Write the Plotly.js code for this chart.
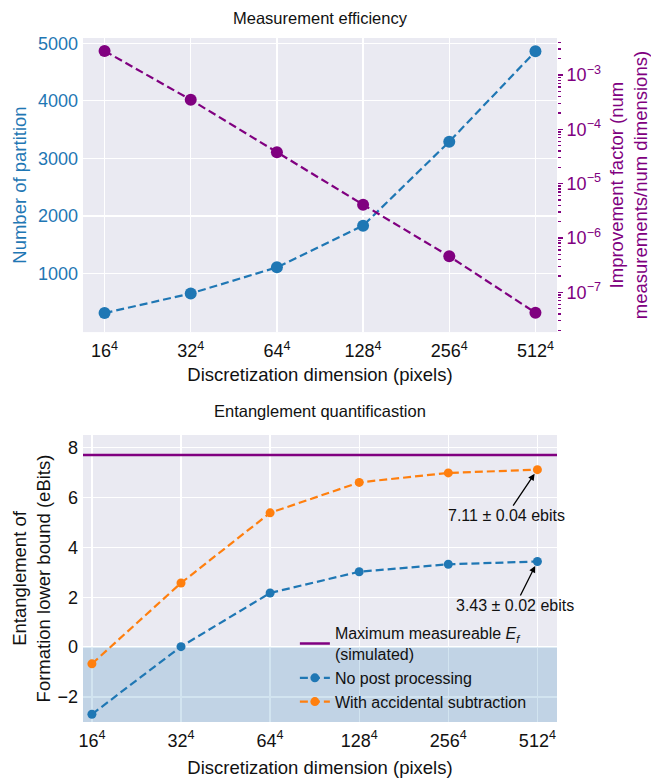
<!DOCTYPE html>
<html><head><meta charset="utf-8">
<script src="https://cdn.plot.ly/plotly-3.0.1.min.js"></script>
<style>html,body{margin:0;padding:0;background:#fff}#chart{width:651px;height:779px}</style>
</head><body><div id="chart"></div>
<script>
// ---- data ----
const dimBases = ['16', '32', '64', '128', '256', '512'];
const xIdx = [0, 1, 2, 3, 4, 5];
const partitions = [310, 650, 1105, 1830, 3290, 4860];
const improvement = [2.77e-3, 3.5e-4, 3.8e-5, 4.1e-6, 4.6e-7, 4.2e-8];
const noPost = [-2.69, 0.02, 2.17, 3.02, 3.32, 3.43];
const noPostErr = [0.05, 0.04, 0.03, 0.02, 0.02, 0.02];
const accSub = [-0.67, 2.57, 5.38, 6.60, 6.98, 7.11];
const accSubErr = [0.06, 0.05, 0.04, 0.04, 0.04, 0.04];
const maxEf = 7.7;
const separableBound = 0;      // E_f below this value: shaded region
const logTicks = [1e-7, 1e-6, 1e-5, 1e-4, 1e-3];
const logTickText = ['10<sup>−7</sup>', '10<sup>−6</sup>', '10<sup>−5</sup>', '10<sup>−4</sup>', '10<sup>−3</sup>'];
const leftTicks = [1000, 2000, 3000, 4000, 5000];
const efTicks = [-2, 0, 2, 4, 6, 8];
const tickText = dimBases.map(d => d + '<sup>4</sup>');

const BLUE = '#1f77b4', PURPLE = '#800080', ORANGE = '#ff7f0e', TXT = '#111';
const FONT = 'Liberation Sans, Arial, sans-serif';
const dash = '8px,4px';
const yr2 = [-3, 8.5];
const xr2 = [-0.1, 5.22];

const traces = [
  {x: xIdx, y: partitions, xaxis: 'x', yaxis: 'y', mode: 'lines+markers', showlegend: false,
   line: {color: BLUE, width: 2.2, dash: dash}, marker: {color: BLUE, size: 12}},
  {x: xIdx, y: improvement, xaxis: 'x', yaxis: 'y3', mode: 'lines+markers', showlegend: false,
   line: {color: PURPLE, width: 2.2, dash: dash}, marker: {color: PURPLE, size: 12}},
  // shaded region where the bound is not positive
  {x: [xr2[0] - 1, xr2[1] + 1, xr2[1] + 1, xr2[0] - 1], y: [separableBound, separableBound, yr2[0] - 5, yr2[0] - 5],
   xaxis: 'x2', yaxis: 'y2', mode: 'none', fill: 'toself', fillcolor: 'rgba(31,119,180,0.2)',
   showlegend: false, hoverinfo: 'skip'},
  {x: [xr2[0] - 1, xr2[1] + 1], y: [maxEf, maxEf], xaxis: 'x2', yaxis: 'y2', mode: 'lines',
   name: 'Maximum measureable <i>E<sub>f</sub></i><br>(simulated)',
   line: {color: PURPLE, width: 2.5}},
  {x: xIdx, y: noPost, xaxis: 'x2', yaxis: 'y2', mode: 'lines+markers', name: 'No post processing',
   error_y: {type: 'data', array: noPostErr, color: BLUE, thickness: 1.5, width: 0},
   line: {color: BLUE, width: 2.2, dash: dash}, marker: {color: BLUE, size: 9}},
  {x: xIdx, y: accSub, xaxis: 'x2', yaxis: 'y2', mode: 'lines+markers', name: 'With accidental subtraction',
   error_y: {type: 'data', array: accSubErr, color: ORANGE, thickness: 1.5, width: 0},
   line: {color: ORANGE, width: 2.2, dash: dash}, marker: {color: ORANGE, size: 9}}
];

const xCommon = {
  tickvals: xIdx, ticktext: tickText, showgrid: true, gridcolor: '#ffffff', gridwidth: 1.3,
  zeroline: false, showline: false, ticks: '', ticklabelstandoff: 6,
  tickfont: {size: 18, color: TXT, family: FONT}
};
const xTitleText = 'Discretization dimension (pixels)';

const layout = {
  width: 651, height: 779,
  margin: {l: 83, r: 94, t: 38, b: 57},
  paper_bgcolor: '#ffffff', plot_bgcolor: '#eaeaf2',
  font: {family: FONT, color: TXT},
  title: {text: 'Measurement efficiency', font: {size: 16.5, color: TXT, family: FONT},
          x: 0.5, xref: 'paper', xanchor: 'center', y: 1 - 18 / 779, yref: 'container', yanchor: 'middle'},
  xaxis: Object.assign({}, xCommon, {anchor: 'y', domain: [0, 1], range: [-0.25, 5.25],
          title: {text: xTitleText, font: {size: 18.5, color: TXT, family: FONT}, standoff: 7}}),
  yaxis: {anchor: 'x', domain: [0.570, 1], range: [-21, 5092], tickvals: leftTicks,
          showgrid: true, gridcolor: '#ffffff', gridwidth: 1.3, zeroline: false, showline: false,
          ticks: '', ticklabelstandoff: 4, tickfont: {size: 18, color: BLUE, family: FONT},
          title: {text: 'Number of partition', font: {size: 18.5, color: BLUE, family: FONT}, standoff: 6}},
  yaxis3: {overlaying: 'y', anchor: 'x', side: 'right', type: 'log', range: [-7.733, -2.319],
           tickmode: 'array', tickvals: logTicks, ticktext: logTickText, showgrid: false, zeroline: false,
           showline: false, ticks: 'outside', ticklen: 5, tickwidth: 1.5, tickcolor: PURPLE,
           minor: {ticks: 'outside', ticklen: 3, tickwidth: 1.5, tickcolor: PURPLE, dtick: 'D1', showgrid: false},
           tickfont: {size: 18, color: PURPLE, family: FONT},
           title: {text: 'Improvement factor (num<br>measurements/num dimensions)', font: {size: 18.5, color: PURPLE, family: FONT}, standoff: 13}},
  xaxis2: Object.assign({}, xCommon, {anchor: 'y2', domain: [0, 1], range: xr2,
          title: {text: xTitleText, font: {size: 18.5, color: TXT, family: FONT}, standoff: 11}}),
  yaxis2: {anchor: 'x2', domain: [0, 0.4196], range: yr2, tickvals: efTicks,
           ticktext: efTicks.map(v => v < 0 ? '−' + Math.abs(v) : String(v)),
           showgrid: true, gridcolor: '#ffffff', gridwidth: 1.3, zeroline: false, showline: false,
           ticks: '', ticklabelstandoff: 4, tickfont: {size: 18, color: TXT, family: FONT},
           title: {text: 'Entanglement of<br>Formation lower bound (eBits)', font: {size: 18.5, color: TXT, family: FONT}, standoff: 1}},
  legend: {x: 0.447, xanchor: 'left', y: 0.1545, yanchor: 'top', bgcolor: 'rgba(0,0,0,0)',
           font: {size: 16, color: TXT, family: FONT}, tracegroupgap: 0, itemwidth: 30},
  annotations: [
    {xref: 'paper', yref: 'paper', x: 0.5, y: (722 - 411) / 684, xanchor: 'center', yanchor: 'middle',
     text: 'Entanglement quantificastion', showarrow: false, font: {size: 16.5, color: TXT, family: FONT}},
    {xref: 'x2', yref: 'y2', x: xIdx[5], y: accSub[5], text: accSub[5].toFixed(2) + ' ± 0.04 ebits',
     showarrow: true, ax: -31, ay: 46, arrowhead: 2, arrowsize: 1, arrowwidth: 1.3, arrowcolor: '#000',
     standoff: 5, font: {size: 16, color: TXT, family: FONT}},
    {xref: 'x2', yref: 'y2', x: xIdx[5], y: noPost[5], text: noPost[5].toFixed(2) + ' ± 0.02 ebits',
     showarrow: true, ax: -22, ay: 44, arrowhead: 2, arrowsize: 1, arrowwidth: 1.3, arrowcolor: '#000',
     standoff: 5, font: {size: 16, color: TXT, family: FONT}}
  ]
};

Plotly.newPlot('chart', traces, layout, {displayModeBar: false, staticPlot: true});
</script>
</body></html>
